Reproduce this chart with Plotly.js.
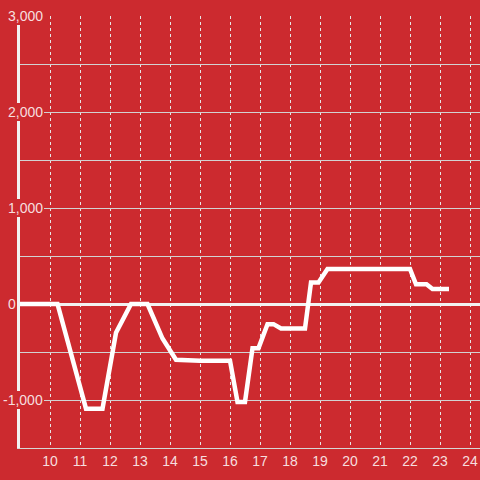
<!DOCTYPE html>
<html>
<head>
<meta charset="utf-8">
<script src="https://cdn.plot.ly/plotly-3.0.1.min.js"></script>
<style>html,body{margin:0;padding:0;background:#cc2a2f;}#chart{width:480px;height:480px;}</style>
</head>
<body>
<div id="chart"></div>
<script>
// Hours of the day (x) and values (y)
const hours  = [9, 10.25, 11.2, 11.75, 12.2, 12.7, 13.25, 13.75, 14.2, 15.0, 16.0, 16.25, 16.5, 16.75, 16.95, 17.25, 17.45, 17.7, 18.5, 18.7, 18.95, 19.25, 22.0, 22.2, 22.55, 22.75, 23.3];
const values = [0, 0, -1090, -1090, -300, 0, 0, -360, -580, -590, -590, -1020, -1020, -460, -460, -210, -210, -255, -255, 225, 225, 365, 365, 205, 205, 155, 155];

const xTickVals = [10, 11, 12, 13, 14, 15, 16, 17, 18, 19, 20, 21, 22, 23, 24];
const xTickText = ['10', '11', '12', '13', '14', '15', '16', '17', '18', '19', '20', '21', '22', '23', '24'];
const yTickVals = [3000, 2000, 1000, 0, -1000];
const yTickText = ['3,000', '2,000', '1,000', '0', '-1,000'];

const BG = '#cc2a2f';
const LABEL = 'rgba(255,255,255,0.86)';
const FONT = 'Liberation Sans, Arial, sans-serif';

const annotations = yTickVals.map((v, i) => ({
  xref: 'paper', yref: 'y', x: 0, y: v,
  text: yTickText[i], showarrow: false,
  xanchor: 'right', yanchor: 'middle',
  xshift: v === 0 ? -3 : 24,
  bgcolor: BG, borderpad: 1, borderwidth: 0,
  font: {family: FONT, size: 14, color: LABEL}
}));

const trace = {
  x: hours, y: values, type: 'scatter', mode: 'lines',
  line: {color: '#ffffff', width: 4.5},
  hoverinfo: 'skip'
};

const layout = {
  width: 480, height: 480,
  margin: {l: 20, r: 0, t: 16, b: 32, pad: 0},
  paper_bgcolor: BG, plot_bgcolor: BG,
  showlegend: false,
  font: {family: FONT, size: 14, color: LABEL},
  xaxis: {
    range: [9, 9 + 460 / 30],
    tickmode: 'array', tickvals: xTickVals, ticktext: xTickText,
    showgrid: true, gridcolor: '#e6e6e6', gridwidth: 1, griddash: 'dot',
    zeroline: false,
    showline: true, linecolor: '#d6d6d6', linewidth: 1,
    ticks: '', tickfont: {family: FONT, size: 14, color: LABEL},
    fixedrange: true
  },
  yaxis: {
    range: [-1500, 3000],
    tickmode: 'linear', tick0: 0, dtick: 500,
    showticklabels: false,
    showgrid: true, gridcolor: '#d2d2d2', gridwidth: 1,
    zeroline: true, zerolinecolor: '#f2f2f2', zerolinewidth: 3,
    showline: true, linecolor: '#f2f2f2', linewidth: 3,
    ticks: '',
    fixedrange: true
  },
  annotations: annotations
};

Plotly.newPlot('chart', [trace], layout, {displayModeBar: false, staticPlot: true});
</script>
</body>
</html>
